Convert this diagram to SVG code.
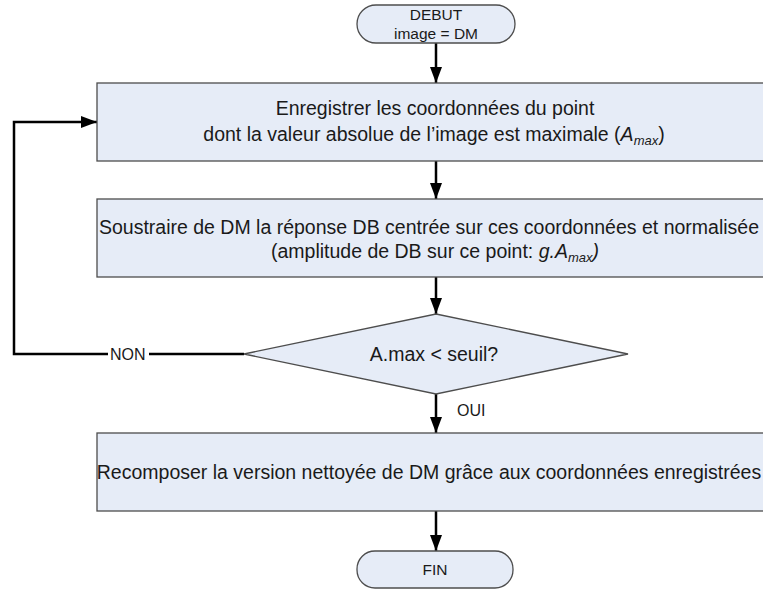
<svg xmlns="http://www.w3.org/2000/svg" width="763" height="590" viewBox="0 0 763 590">
  <style>
    .shape { fill: #e6ecf7; stroke: #4d4d4d; stroke-width: 1.3; }
    .txt { font-family: "Liberation Sans", Arial, sans-serif; font-size: 19.5px; fill: #1a1a1a; text-anchor: middle; }
    .term { font-family: "Liberation Sans", Arial, sans-serif; font-size: 15.5px; fill: #1a1a1a; text-anchor: middle; }
    .lbl { font-family: "Liberation Sans", Arial, sans-serif; font-size: 16px; fill: #1a1a1a; }
    .it { font-style: italic; }
    .sub { font-style: italic; font-size: 13px; }
    .conn { fill: none; stroke: #000000; stroke-width: 2.5; marker-end: url(#arrow); }
  </style>
  <defs>
    <marker id="arrow" markerUnits="userSpaceOnUse" markerWidth="16" markerHeight="12" refX="16" refY="6" orient="auto">
      <path d="M0,0 L16,6 L0,12 z" fill="#000000"/>
    </marker>
  </defs>
  <rect width="763" height="590" fill="#ffffff"/>

  <!-- connectors -->
  <g id="connectors">
    <path class="conn" d="M436,43 V83"/>
    <path class="conn" d="M436,161 V199"/>
    <path class="conn" d="M436,277 V314"/>
    <path class="conn" d="M436,394 V433"/>
    <path class="conn" d="M436,511 V551"/>
    <path class="conn" d="M244,354 H14 V122 H97"/>
    <rect x="108" y="344" width="41" height="20" fill="#ffffff"/>
    <text class="lbl" x="110" y="360">NON</text>
    <text class="lbl" x="457" y="416">OUI</text>
  </g>

  <!-- start -->
  <g id="debut">
    <rect class="shape" x="357" y="5" width="158" height="38" rx="19" ry="19"/>
    <text class="term" x="436" y="20">DEBUT</text>
    <text class="term" x="436" y="39">image = DM</text>
  </g>

  <!-- record maximum -->
  <g id="enregistrer">
    <rect class="shape" x="97" y="83" width="667" height="78"/>
    <text class="txt" x="435" y="115">Enregistrer les coordonnées du point</text>
    <text class="txt" x="434" y="141">dont la valeur absolue de l’image est maximale (<tspan class="it">A</tspan><tspan class="sub" dy="4">max</tspan><tspan dy="-4">)</tspan></text>
  </g>

  <!-- subtract response -->
  <g id="soustraire">
    <rect class="shape" x="97" y="199" width="667" height="78"/>
    <text class="txt" x="429" y="234">Soustraire de DM la réponse DB centrée sur ces coordonnées et normalisée</text>
    <text class="txt" x="435" y="258">(amplitude de DB sur ce point: <tspan class="it">g.A</tspan><tspan class="sub" dy="4">max</tspan><tspan class="it" dy="-4">)</tspan></text>
  </g>

  <!-- threshold test -->
  <g id="test">
    <polygon class="shape" points="436,314 628,354 436,394 244,354"/>
    <text class="txt" x="434" y="361">A.max &lt; seuil?</text>
  </g>

  <!-- rebuild -->
  <g id="recomposer">
    <rect class="shape" x="97" y="433" width="667" height="78"/>
    <text class="txt" x="429" y="479">Recomposer la version nettoyée de DM grâce aux coordonnées enregistrées</text>
  </g>

  <!-- end -->
  <g id="fin">
    <rect class="shape" x="357" y="551" width="156" height="37" rx="18" ry="18"/>
    <text class="term" x="435" y="575">FIN</text>
  </g>
</svg>
